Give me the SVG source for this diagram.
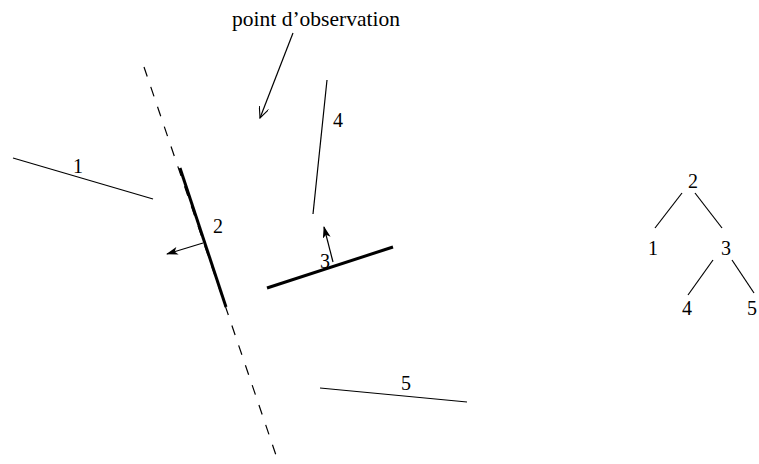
<svg xmlns="http://www.w3.org/2000/svg" width="759" height="464" viewBox="0 0 759 464">
<style>
.t{font-family:"Liberation Serif","Times New Roman",serif;font-size:20px;fill:#000;text-anchor:middle}
.thin{stroke:#000;stroke-width:1.2;fill:none}
.thick{stroke:#000;stroke-width:3;fill:none;stroke-linecap:butt}
.dash{stroke:#000;stroke-width:1.2;fill:none;stroke-dasharray:10 11}
</style>
<defs>
<marker id="fill" markerWidth="12" markerHeight="8" refX="11" refY="4" orient="auto" markerUnits="userSpaceOnUse">
<path d="M0,0 L12,4 L0,8 L3,4 Z" fill="#000"/>
</marker>
<marker id="open" markerWidth="12" markerHeight="10" refX="11" refY="5" orient="auto" markerUnits="userSpaceOnUse">
<path d="M0,0 L11,5 L0,10" fill="none" stroke="#000" stroke-width="1.1"/>
</marker>
</defs>
<rect width="759" height="464" fill="#fff"/>
<g id="connectors">
<line class="dash" x1="144" y1="67" x2="279" y2="464"/>
<line class="thin" x1="293" y1="33" x2="260" y2="118" marker-end="url(#open)"/>
<line class="thin" x1="203" y1="243" x2="167" y2="254" marker-end="url(#fill)"/>
<line class="thin" x1="333" y1="262" x2="324" y2="227" marker-end="url(#fill)"/>
</g>
<g id="seg1"><line class="thin" x1="13" y1="158" x2="153" y2="199"/><text class="t" x="78" y="173">1</text></g>
<g id="seg2"><line class="thick" x1="180" y1="168" x2="226" y2="307"/><text class="t" x="218" y="233">2</text></g>
<g id="seg3"><line class="thick" x1="267" y1="288" x2="393" y2="247"/><text class="t" x="325" y="268">3</text></g>
<g id="seg4"><line class="thin" x1="327" y1="80" x2="313" y2="214"/><text class="t" x="338" y="127">4</text></g>
<g id="seg5"><line class="thin" x1="320" y1="388" x2="467" y2="402"/><text class="t" x="406" y="390">5</text></g>
<g id="label"><text class="t" x="316" y="26" style="font-size:21.5px">point d’observation</text></g>
<g id="tree">
<text class="t" x="693" y="188">2</text>
<text class="t" x="653" y="255">1</text>
<text class="t" x="726" y="255">3</text>
<text class="t" x="687" y="315">4</text>
<text class="t" x="752" y="315">5</text>
<line class="thin" x1="682" y1="193" x2="655" y2="228"/>
<line class="thin" x1="695" y1="193" x2="722" y2="228"/>
<line class="thin" x1="713" y1="260" x2="688" y2="295"/>
<line class="thin" x1="732" y1="260" x2="754" y2="293"/>
</g>
</svg>
